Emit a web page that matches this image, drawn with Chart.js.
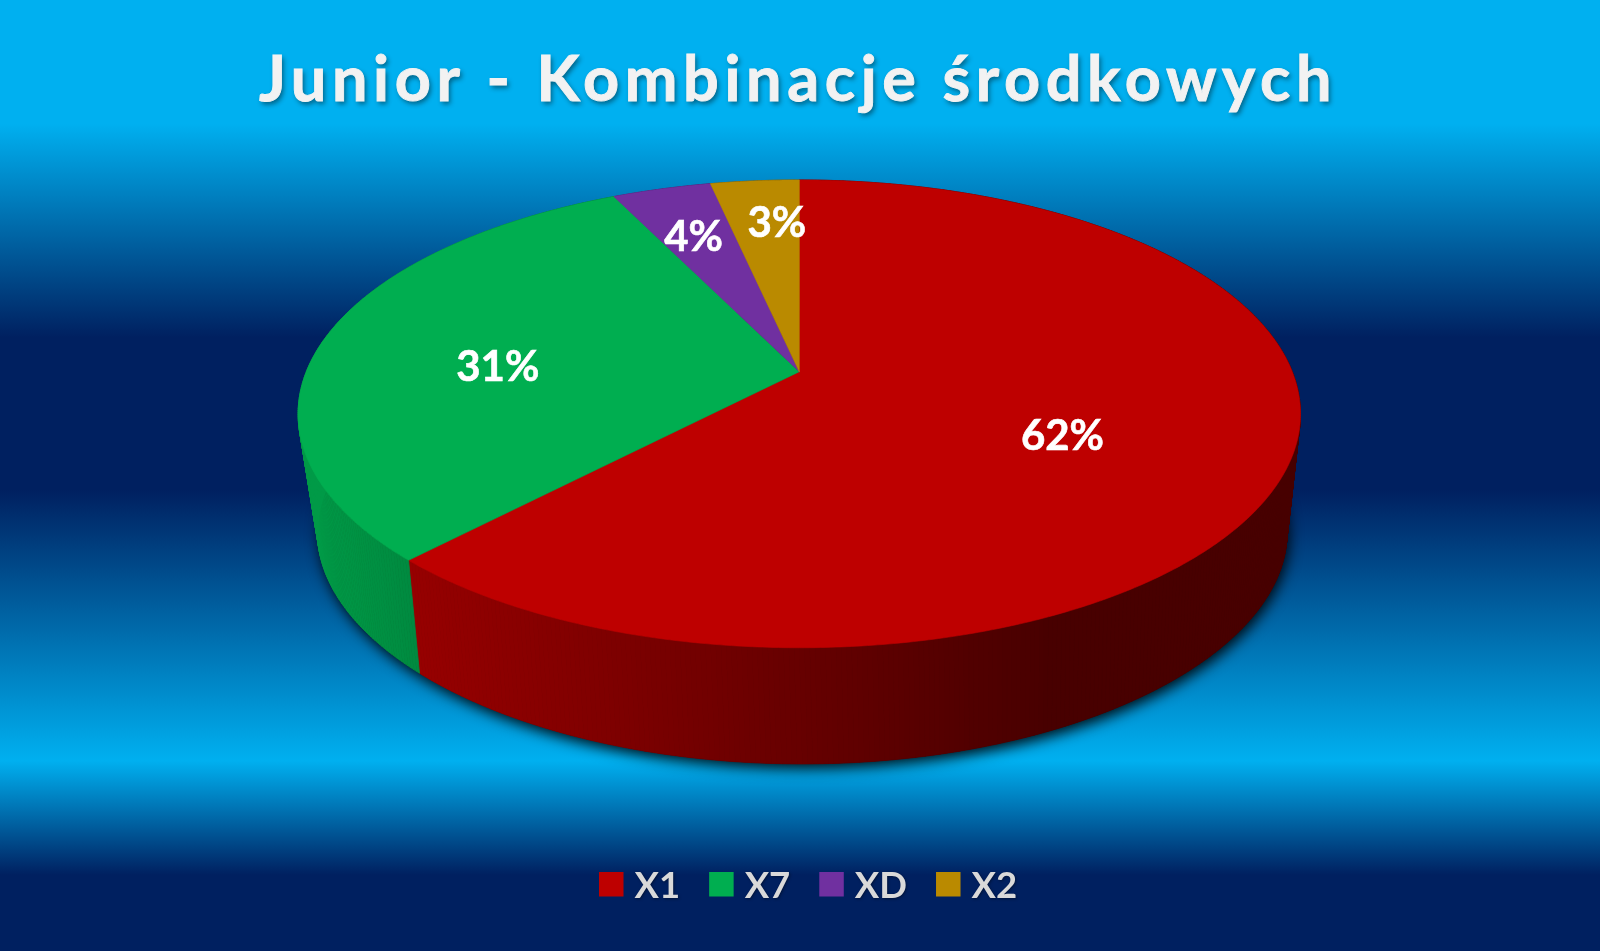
<!DOCTYPE html>
<html>
<head>
<meta charset="utf-8">
<style>html,body{margin:0;padding:0;background:#002060;overflow:hidden}canvas{display:block}</style>
<script src="https://cdn.jsdelivr.net/npm/chart.js@4"></script>
</head>
<body>
<canvas id="c" width="1600" height="951"></canvas>
<script>
const TITLE = 'Junior - Kombinacje środkowych';
const categories = ['X1', 'X7', 'XD', 'X2'];
const shares = [62.1, 30.7, 3.8, 3.4];
const sliceColors = ['#BE0000', '#00AE50', '#7030A0', '#BA8A00'];
const labelNudges = [[-23, 12], [-14, 16], [-18, -18], [6, -26]];

const bgStops = [[0, '#00B0F0'], [0.13, '#00B0F0'], [0.355, '#002060'], [0.515, '#002060'], [0.80, '#00B0F0'], [0.92, '#002060'], [1, '#002060']];
const shadeStops = [[298, 0.9], [420, 0.79], [800, 0.54], [1050, 0.38], [1300, 0.38]];

const RADIUS = 493;
const TOP_K = 226.3 / 493, TOP_P = 0.1802;
const LOW = { dx: 3, dy: 115.3, k: 216 / 493, py: 0.22, px: 0.2, s: 475 / 493 };
const STEP = Math.PI / 360;

function topPt(a, u, v) {
  const d = 1 - TOP_P * v;
  return [a.x + a.outerRadius * u / d, a.y + a.outerRadius * TOP_K * v / d];
}
function lowPt(a, u, v) {
  return [a.x + LOW.dx + a.outerRadius * LOW.s * u / (1 - LOW.px * v),
          a.y + LOW.dy + a.outerRadius * LOW.k * v / (1 - LOW.py * v)];
}
function shade(x) {
  for (let i = 1; i < shadeStops.length; i++) {
    if (x <= shadeStops[i][0]) {
      const [x0, f0] = shadeStops[i - 1], [x1, f1] = shadeStops[i];
      return f0 + (f1 - f0) * Math.max(0, (x - x0) / (x1 - x0));
    }
  }
  return shadeStops[shadeStops.length - 1][1];
}
function rgb(hex, f) {
  const n = parseInt(hex.slice(1), 16);
  return `rgb(${Math.round((n >> 16) * f)},${Math.round(((n >> 8) & 255) * f)},${Math.round((n & 255) * f)})`;
}

const pie3d = {
  id: 'pie3d',
  beforeDraw(chart) {
    const { ctx, width, height } = chart;
    const g = ctx.createLinearGradient(0, 0, 0, height);
    bgStops.forEach(([p, c]) => g.addColorStop(p, c));
    ctx.save();
    ctx.fillStyle = g;
    ctx.fillRect(0, 0, width, height);
    ctx.restore();
  },
  beforeDatasetsDraw(chart) {
    const { ctx } = chart;
    const arcs = chart.getDatasetMeta(0).data;
    const ref = arcs[0];
    ctx.save();

    // cast shadow of the lower rim
    ctx.save();
    ctx.shadowColor = 'rgba(0,0,0,0.9)';
    ctx.shadowBlur = 14;
    ctx.shadowOffsetX = 2;
    ctx.shadowOffsetY = 5;
    ctx.fillStyle = '#300000';
    ctx.beginPath();
    for (let t = 0; t < Math.PI * 2; t += STEP) {
      const [x, y] = lowPt(ref, Math.cos(t), Math.sin(t));
      t === 0 ? ctx.moveTo(x, y) : ctx.lineTo(x, y);
    }
    ctx.closePath();
    ctx.fill();
    ctx.restore();

    // side wall, one thin strip per step along each slice's arc
    arcs.forEach((a, i) => {
      for (let t = a.startAngle; t < a.endAngle; t += STEP) {
        const e = Math.min(t + STEP, a.endAngle);
        const p1 = topPt(a, Math.cos(t), Math.sin(t));
        const p2 = topPt(a, Math.cos(e), Math.sin(e));
        const p3 = lowPt(a, Math.cos(e), Math.sin(e));
        const p4 = lowPt(a, Math.cos(t), Math.sin(t));
        const col = rgb(sliceColors[i], shade((p1[0] + p4[0]) / 2));
        ctx.fillStyle = col;
        ctx.strokeStyle = col;
        ctx.lineWidth = 0.8;
        ctx.beginPath();
        ctx.moveTo(p1[0], p1[1]);
        ctx.lineTo(p2[0], p2[1]);
        ctx.lineTo(p3[0], p3[1]);
        ctx.lineTo(p4[0], p4[1]);
        ctx.closePath();
        ctx.fill();
        ctx.stroke();
      }
    });

    // top face
    arcs.forEach((a, i) => {
      ctx.fillStyle = sliceColors[i];
      ctx.strokeStyle = sliceColors[i];
      ctx.lineWidth = 0.6;
      ctx.beginPath();
      ctx.moveTo(a.x, a.y);
      for (let t = a.startAngle; ; t += STEP) {
        const e = Math.min(t, a.endAngle);
        const [x, y] = topPt(a, Math.cos(e), Math.sin(e));
        ctx.lineTo(x, y);
        if (t >= a.endAngle) break;
      }
      ctx.closePath();
      ctx.fill();
      ctx.stroke();
    });

    // value labels
    const total = shares.reduce((s, v) => s + v, 0);
    ctx.font = 'bold 42px Lato';
    ctx.fillStyle = '#FFFFFF';
    ctx.strokeStyle = '#FFFFFF';
    ctx.lineWidth = 0.6;
    ctx.textAlign = 'center';
    ctx.textBaseline = 'middle';
    arcs.forEach((a, i) => {
      const m = (a.startAngle + a.endAngle) / 2;
      const [x, y] = topPt(a, 0.6 * Math.cos(m), 0.6 * Math.sin(m));
      const s = Math.round(shares[i] / total * 100) + '%';
      ctx.fillText(s, x + labelNudges[i][0], y + labelNudges[i][1]);
      ctx.strokeText(s, x + labelNudges[i][0], y + labelNudges[i][1]);
    });
    ctx.restore();
    return false;
  },
  afterDraw(chart) {
    const { ctx } = chart;
    ctx.save();
    // title
    ctx.font = 'bold 63px Lato';
    ctx.letterSpacing = '5.6px';
    ctx.textAlign = 'left';
    ctx.textBaseline = 'alphabetic';
    ctx.fillStyle = '#F2F2F2';
    ctx.strokeStyle = '#F2F2F2';
    ctx.lineWidth = 0.9;
    ctx.shadowColor = 'rgba(0,0,0,0.45)';
    ctx.shadowBlur = 5;
    ctx.shadowOffsetX = 2;
    ctx.shadowOffsetY = 3;
    ctx.fillText(TITLE, 259, 100.5);
    ctx.shadowColor = 'rgba(0,0,0,0)';
    ctx.strokeText(TITLE, 259, 100.5);
    ctx.letterSpacing = '0px';

    // legend
    ctx.font = 'bold 36.5px Lato';
    const box = 24.5, gapText = 11, gapItem = 29;
    let x = 599;
    categories.forEach((c, i) => {
      ctx.shadowColor = 'rgba(0,0,0,0)';
      ctx.fillStyle = sliceColors[i];
      ctx.fillRect(x, 872, box, box);
      ctx.shadowColor = 'rgba(0,0,0,0.4)';
      ctx.shadowBlur = 3;
      ctx.shadowOffsetX = 1;
      ctx.shadowOffsetY = 1;
      ctx.fillStyle = '#D9D9D9';
      ctx.fillText(c, x + box + gapText, 897.5);
      x += box + gapText + ctx.measureText(c).width + gapItem;
    });
    ctx.restore();
  }
};

new Chart(document.getElementById('c'), {
  type: 'pie',
  data: {
    labels: categories,
    datasets: [{ data: shares, backgroundColor: sliceColors, borderWidth: 0, radius: RADIUS }]
  },
  options: {
    responsive: false,
    animation: false,
    devicePixelRatio: 1,
    layout: { padding: { left: 0, right: 1.4, top: 0, bottom: 207.6 } },
    plugins: { legend: { display: false }, title: { display: false }, tooltip: { enabled: false } }
  },
  plugins: [pie3d]
});
</script>
</body>
</html>
